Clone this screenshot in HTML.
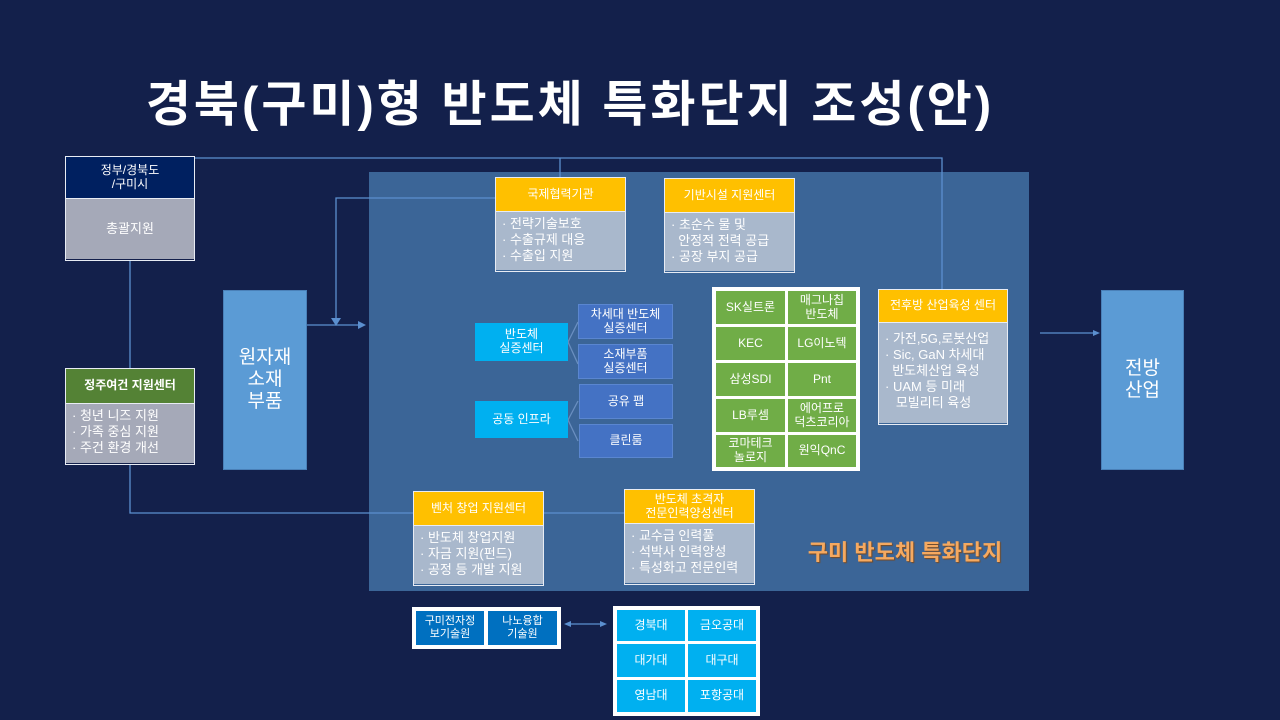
<!DOCTYPE html>
<html><head><meta charset="utf-8"><style>
*{margin:0;padding:0;box-sizing:border-box}
body{width:1280px;height:720px;background:#13204b;position:relative;overflow:hidden;font-family:"Liberation Sans","Noto Sans CJK KR",sans-serif;color:#fff}
.a{position:absolute}
.c{display:flex;align-items:center;justify-content:center;text-align:center;line-height:1.15}
.hd{background:#ffc000;font-size:12px}
.gy{background:#a9b8cc;font-size:13px;line-height:16px;padding:4px 6px;text-align:left}
.bx{border:1.5px solid #e8ecf4}
.g{background:#70ad47;font-size:12px}
.cy{background:#00b0f0;font-size:12px}
.db{background:#4472c4;font-size:12px;border:1px solid #5a86d0}
</style></head><body>
<div class="a c" style="left:140px;top:74px;width:860px;height:62px;font-size:49px;font-weight:bold;letter-spacing:3px">경북(구미)형 반도체 특화단지 조성(안)</div>

<div class="a" style="left:369px;top:172px;width:660px;height:419px;background:#3b6597"></div>

<svg class="a" style="left:0;top:0" width="1280" height="720">
<g stroke="#5b8fcf" stroke-width="1.3" fill="none">
<polyline points="194,158 942,158 942,289"/>
<line x1="560" y1="158" x2="560" y2="177"/>
<polyline points="495,198 336,198 336,320"/>
<line x1="130" y1="260" x2="130" y2="368"/>
<polyline points="130,464 130,513 413,513"/>
<line x1="543" y1="513" x2="624" y2="513"/>
<line x1="307" y1="325" x2="360" y2="325"/>
<line x1="1040" y1="333" x2="1094" y2="333"/>
<line x1="568" y1="624" x2="603" y2="624"/>
<polyline points="568,342 578,322" stroke="#6a8fc0"/><polyline points="568,342 578,364" stroke="#6a8fc0"/>
<polyline points="568,420 578,401" stroke="#6a8fc0"/><polyline points="568,420 578,441" stroke="#6a8fc0"/>
</g>
<g fill="#5b8fcf">
<polygon points="331,318 341,318 336,326"/>
<polygon points="358,321 366,325 358,329"/>
<polygon points="1093,330 1100,333 1093,336"/>
<polygon points="571,621 564,624 571,627"/>
<polygon points="600,621 607,624 600,627"/>
</g>
</svg>

<div class="a bx" style="left:65px;top:156px;width:130px;height:105px">
<div class="c" style="background:#002060;height:41px;font-size:12px">정부/경북도<br>/구미시</div>
<div class="c" style="background:#a5a9b8;height:61px;font-size:13px;border-top:1.5px solid #e8ecf4">총괄지원</div></div>

<div class="a bx" style="left:65px;top:368px;width:130px;height:97px">
<div class="c" style="background:#548235;height:34px;font-size:12px;font-weight:bold">정주여건 지원센터</div>
<div class="gy" style="height:60px;border-top:1.5px solid #e8ecf4;background:#a5a9b8">· 청년 니즈 지원<br>· 가족 중심 지원<br>· 주건 환경 개선</div></div>

<div class="a c" style="left:223px;top:290px;width:84px;height:180px;background:#5b9bd5;font-size:19px;border:1px solid #4a80b8">원자재<br>소재<br>부품</div>
<div class="a c" style="left:1101px;top:290px;width:83px;height:180px;background:#5b9bd5;font-size:19px;border:1px solid #4a80b8">전방<br>산업</div>

<div class="a bx" style="left:495px;top:177px;width:131px;height:95px">
<div class="c hd" style="height:33px">국제협력기관</div>
<div class="gy" style="height:59px;border-top:1.5px solid #e8ecf4">· 전략기술보호<br>· 수출규제 대응<br>· 수출입 지원</div></div>

<div class="a bx" style="left:664px;top:178px;width:131px;height:95px">
<div class="c hd" style="height:33px">기반시설 지원센터</div>
<div class="gy" style="height:59px;border-top:1.5px solid #e8ecf4">· 초순수 물 및<br>&nbsp;&nbsp;안정적 전력 공급<br>· 공장 부지 공급</div></div>

<div class="a bx" style="left:878px;top:289px;width:130px;height:136px">
<div class="c hd" style="height:32px">전후방 산업육성 센터</div>
<div class="gy" style="height:101px;border-top:1.5px solid #e8ecf4;padding-top:8px">· 가전,5G,로봇산업<br>· Sic, GaN 차세대<br>&nbsp;&nbsp;반도체산업 육성<br>· UAM 등 미래<br>&nbsp;&nbsp;&nbsp;모빌리티 육성</div></div>

<div class="a bx" style="left:413px;top:491px;width:131px;height:95px">
<div class="c hd" style="height:33px">벤처 창업 지원센터</div>
<div class="gy" style="height:59px;border-top:1.5px solid #e8ecf4">· 반도체 창업지원<br>· 자금 지원(펀드)<br>· 공정 등 개발 지원</div></div>

<div class="a bx" style="left:624px;top:489px;width:131px;height:96px">
<div class="c hd" style="height:33px">반도체 초격자<br>전문인력양성센터</div>
<div class="gy" style="height:60px;border-top:1.5px solid #e8ecf4">· 교수급 인력풀<br>· 석박사 인력양성<br>· 특성화고 전문인력</div></div>

<div class="a c cy" style="left:475px;top:323px;width:93px;height:38px">반도체<br>실증센터</div>
<div class="a c cy" style="left:475px;top:401px;width:93px;height:37px">공동 인프라</div>
<div class="a c db" style="left:578px;top:304px;width:95px;height:35px">차세대 반도체<br>실증센터</div>
<div class="a c db" style="left:578px;top:344px;width:95px;height:35px">소재부품<br>실증센터</div>
<div class="a c db" style="left:579px;top:384px;width:94px;height:35px">공유 팹</div>
<div class="a c db" style="left:579px;top:424px;width:94px;height:34px">클린룸</div>

<div class="a" style="left:712px;top:287px;width:148px;height:184px;background:#fff"></div>
<div class="a c g" style="left:716px;top:291px;width:69px;height:33px">SK실트론</div>
<div class="a c g" style="left:788px;top:291px;width:68px;height:33px">매그나칩<br>반도체</div>
<div class="a c g" style="left:716px;top:327px;width:69px;height:33px">KEC</div>
<div class="a c g" style="left:788px;top:327px;width:68px;height:33px">LG이노텍</div>
<div class="a c g" style="left:716px;top:363px;width:69px;height:33px">삼성SDI</div>
<div class="a c g" style="left:788px;top:363px;width:68px;height:33px">Pnt</div>
<div class="a c g" style="left:716px;top:399px;width:69px;height:33px">LB루셈</div>
<div class="a c g" style="left:788px;top:399px;width:68px;height:33px">에어프로<br>덕츠코리아</div>
<div class="a c g" style="left:716px;top:435px;width:69px;height:32px">코마테크<br>놀로지</div>
<div class="a c g" style="left:788px;top:435px;width:68px;height:32px">원익QnC</div>

<div class="a c" style="left:785px;top:538px;width:240px;height:30px;font-size:22px;font-weight:bold;color:#f5a960;text-shadow:1px 1px 1px #7a4a20">구미 반도체 특화단지</div>

<div class="a" style="left:412px;top:607px;width:149px;height:42px;background:#fff"></div>
<div class="a c" style="left:416px;top:611px;width:68px;height:34px;background:#0070c0;font-size:11px">구미전자정<br>보기술원</div>
<div class="a c" style="left:488px;top:611px;width:69px;height:34px;background:#0070c0;font-size:11px">나노융합<br>기술원</div>

<div class="a" style="left:613px;top:606px;width:147px;height:110px;background:#fff"></div>
<div class="a c cy" style="left:617px;top:610px;width:68px;height:31px">경북대</div>
<div class="a c cy" style="left:688px;top:610px;width:68px;height:31px">금오공대</div>
<div class="a c cy" style="left:617px;top:644px;width:68px;height:33px">대가대</div>
<div class="a c cy" style="left:688px;top:644px;width:68px;height:33px">대구대</div>
<div class="a c cy" style="left:617px;top:680px;width:68px;height:32px">영남대</div>
<div class="a c cy" style="left:688px;top:680px;width:68px;height:32px">포항공대</div>
</body></html>
